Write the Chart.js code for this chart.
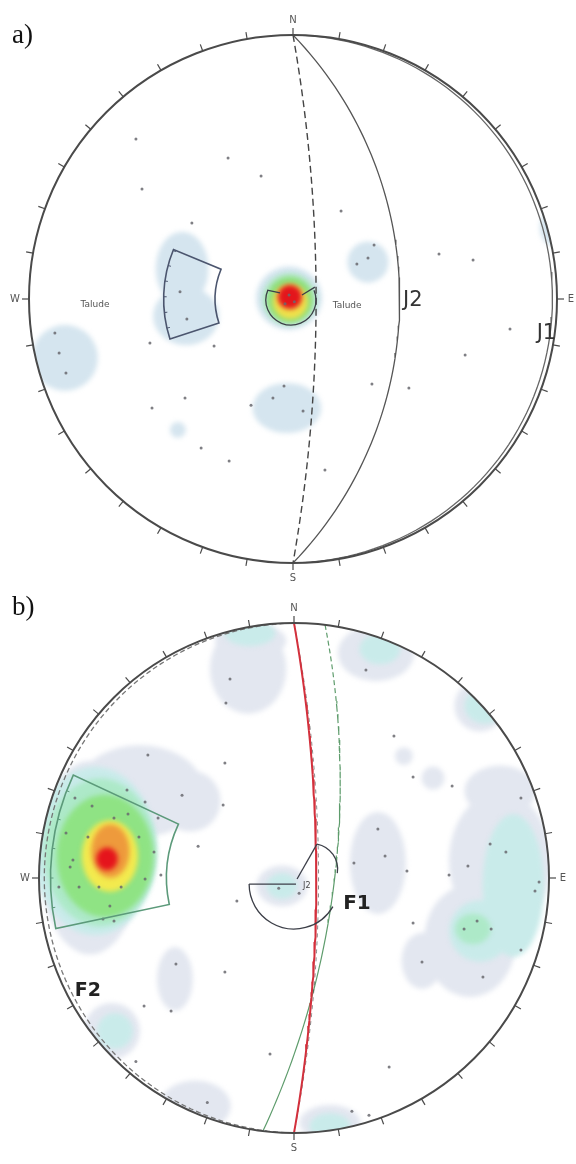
<!DOCTYPE html>
<html>
<head>
<meta charset="utf-8">
<script src="https://cdn.jsdelivr.net/npm/chart.js@4.4.1/dist/chart.umd.min.js"></script>
<style>
  html, body { margin: 0; padding: 0; background: #fff; }
  #wrap { position: relative; width: 576px; height: 1164px; overflow: hidden; }
  .panel { position: absolute; left: 0; width: 576px; }
  #pa { top: 0; height: 583px; }
  #pb { top: 583px; height: 581px; }
  .tag { position: absolute; left: 12px; font-family: "Liberation Serif", "Times New Roman", serif; font-size: 27px; color: #111; }
</style>
</head>
<body>
<div id="wrap">
  <div class="panel" id="pa"><canvas id="ca" width="576" height="583"></canvas></div>
  <div class="panel" id="pb"><canvas id="cb" width="576" height="581"></canvas></div>
  <div class="tag" style="top:19px">a)</div>
  <div class="tag" style="top:591px">b)</div>
</div>
<script>
// ---------- stereonet a) ----------
// Poles, in net units (primitive radius = 100), x = east, y = north
const polesA = [
  [-59.5, 60.6], [-24.6, 53.4], [-12.1, 46.6], [-57.2, 41.7], [-38.3, 28.8],
  [18.2, 33.3], [55.3, 17.0], [68.2, 14.8], [82.2, -11.4], [65.2, -21.2],
  [29.9, -32.2], [43.9, -33.7], [-54.2, -16.7], [-29.9, -17.8], [-90.2, -12.9],
  [-88.6, -20.5], [-86.0, -28.0], [-40.9, -37.5], [-53.4, -41.3], [-15.9, -40.2],
  [-3.4, -33.0], [-7.6, -37.5], [3.8, -42.4], [-34.8, -56.4], [-24.2, -61.4],
  [12.1, -64.8], [30.7, 20.5], [28.4, 15.5], [24.2, 13.3], [-42.8, 2.7],
  [-40.2, -7.6], [-1.5, 1.5], [0.5, -1.0], [-3.0, -1.8]
];
// Density contours: [x, y, rx, ry, level]
const densityA = [
  [-42.0, 11.5, 10, 14, 1], [-40.5, -6.5, 12.5, 11, 1], [-86.4, -22.3, 12.5, 12.5, 1],
  [28.4, 14.0, 7.8, 7.8, 1], [-2.3, -41.3, 13, 9.5, 1], [-43.6, -49.6, 3, 3, 1],
  [99, 27, 5.5, 7, 1], [-1.5, 0.3, 12.5, 12, 1],
  [-1.3, 0.0, 10.5, 10, 2],
  [-1.2, -0.3, 8.8, 8.8, 3],
  [-1.0, -1.0, 6.6, 6.6, 4],
  [-1.2, 0.8, 4.6, 4.6, 6]
];
// Planes (great circles): strike / dip
const planeNamesA = ['J1', 'Talude', 'J2'];
const strikeA = [0, 0, 0];
const dipA = [1, 80, 46];
// Kinematic window: azimuth min/max, radius min/max
const windowA = [252, 292.5, 29.5, 49];
// Slope-face daylight arc: [cx, cy, r, azFrom, azTo]
const arcsA = [[-0.8, -0.4, 9.5, 67, 293]];
const segsA = [[[-9.8, 3.4], [-4.9, 2.3]], [[8.3, 4.5], [3.4, 1.5]]];
const labelsA = [
  ['J2', 45.4, -0.6], ['J1', 96.0, -13.2], ['Talude', -75, -2.3], ['Talude', 20.5, -2.7]
];

// ---------- stereonet b) ----------
const polesB = [
  [-25.1, 78.0], [-26.7, 68.6], [-57.3, 48.2], [-27.1, 45.1], [28.2, 81.6],
  [39.2, 55.7], [46.7, 39.6], [62.0, 36.1], [89.0, 31.4], [32.9, 19.2],
  [35.7, 8.6], [23.5, 5.9], [44.3, 2.7], [60.8, 1.2], [68.2, 4.7],
  [76.9, 13.3], [83.1, 10.2], [96.1, -1.6], [94.5, -5.1], [66.7, -20.0],
  [71.8, -16.9], [77.3, -20.0], [46.7, -17.6], [50.2, -32.9], [89.0, -28.2],
  [74.1, -38.8], [-22.4, -9.0], [-27.1, -36.9], [-46.3, -33.7], [-48.2, -52.2],
  [-58.8, -50.2], [-9.4, -69.0], [37.3, -74.1], [-27.8, 28.6], [-37.6, 12.5],
  [-65.5, 34.5], [-43.9, 32.5], [29.4, -93.0], [22.7, -91.5], [-62, -72],
  [-34, -88],
  [-85.9, 31.4], [-79.2, 28.2], [-70.6, 23.5], [-65.1, 25.1], [-58.4, 29.8],
  [-53.3, 23.5], [-89.4, 17.6], [-80.8, 16.1], [-60.8, 16.1], [-54.9, 10.2],
  [-92.2, -3.5], [-84.3, -3.5], [-76.5, -3.5], [-67.8, -3.5], [-58.4, -0.4],
  [-52.2, 1.2], [-72.2, -11.0], [-70.6, -16.9], [-74.9, -16.1], [-86.7, 7.1],
  [-87.8, 4.3], [-6, -4], [2, -6]
];
const densityB = [
  [-18, 82, 15, 17.6, 1], [-17, 93, 14, 7, 1], [32.2, 88.2, 15, 11, 1], [72.9, 67.5, 10, 10, 1],
  [43.1, 47.8, 3.5, 3.5, 1], [54.5, 39.2, 4.5, 4.5, 1], [80.8, 6.7, 20, 27, 1], [69, -24.7, 18, 22, 1],
  [80.8, 34.1, 14, 10, 1], [32.9, 5.9, 11, 20, 1], [50.2, -32.5, 8, 11, 1], [-60.4, 34.1, 25, 18, 1],
  [-40.8, 30.2, 12, 12, 1], [-46.7, -39.6, 7, 12.5, 1], [-71.4, -60, 11, 11, 1], [-38.8, -89.4, 14, 10, 1],
  [14.1, -96, 12, 7, 1], [-4.7, -3.1, 10, 8, 1], [-80, 8, 20, 38, 1],
  [-17.3, 96, 10, 5, 2], [33.7, 89.8, 8, 6, 2], [74.9, 67.5, 8, 7, 2], [86, -3, 12, 28, 2],
  [72.9, -20.8, 12, 12, 2], [-70.2, -60, 7, 7, 2], [14.1, -97.3, 8, 5, 2], [-4.7, -3.1, 6, 5, 2],
  [-78, 10.6, 24, 33, 2],
  [70.2, -20, 7, 6, 3], [-76, 10, 22, 29, 3],
  [-74.1, 8.6, 19, 24, 4],
  [-72.2, 8.6, 11, 14, 5],
  [-72.0, 10.6, 7.5, 10.5, 6],
  [-73.3, 7.5, 4.2, 4.5, 7]
];
const planeNamesB = ['F1', 'F1 mean', 'F1b', 'F2'];
const strikeB = [0, 0, 7, 180];
const dipB = [80, 79, 72, 1.2];
const windowB = [258, 295, 50, 95.5];
const arcsB = [[0, -2.4, 17.6, 120, 270], [7.1, 3.5, 10, 11, 99]];
const segsB = [[[-17.6, -2.4], [0.8, -2.4]], [[1.2, -0.4], [9.0, 13.3]]];
const labelsB = [['F1', 24.7, -10.2], ['F2', -80.8, -44.3], ['J2', 5.0, -3.2]];

const cardinals = [['N', 0, 1], ['E', 1, 0], ['S', 0, -1], ['W', -1, 0]];

// Lower-hemisphere equal-angle projection of a plane's great circle
function greatCircle(strike, dip) {
  const rad = Math.PI / 180;
  const s = strike * rad, dd = (strike + 90) * rad, d = dip * rad;
  const sv = [Math.sin(s), Math.cos(s), 0];
  const dv = [Math.sin(dd) * Math.cos(d), Math.cos(dd) * Math.cos(d), Math.sin(d)];
  const pts = [];
  for (let a = 0; a <= 180; a += 2) {
    const ca = Math.cos(a * rad), sa = Math.sin(a * rad);
    const e = ca * sv[0] + sa * dv[0], n = ca * sv[1] + sa * dv[1], dn = ca * sv[2] + sa * dv[2];
    const plunge = Math.asin(Math.max(-1, Math.min(1, dn)));
    const trend = Math.atan2(e, n);
    const r = 100 * Math.tan((Math.PI / 2 - plunge) / 2);
    pts.push({ x: r * Math.sin(trend), y: r * Math.cos(trend) });
  }
  return pts;
}

function stereoPlugin(conf) {
  return {
    id: 'stereo',
    beforeDatasetsDraw(chart) {
      const { ctx, scales: { x, y } } = chart;
      const cx = x.getPixelForValue(0), cy = y.getPixelForValue(0);
      const R = x.getPixelForValue(100) - cx;
      ctx.save();
      ctx.beginPath(); ctx.arc(cx, cy, R, 0, 2 * Math.PI); ctx.clip();
      ctx.filter = 'blur(2.5px)';
      const levels = [...new Set(conf.density.map(b => b[4]))].sort((a, b) => a - b);
      for (const lv of levels) {
        ctx.fillStyle = conf.palette[lv];
        ctx.beginPath();
        for (const b of conf.density) {
          if (b[4] !== lv) continue;
          const ex = x.getPixelForValue(b[0]), ey = y.getPixelForValue(b[1]);
          const rx = Math.abs(x.getPixelForValue(b[2]) - cx), ry = Math.abs(y.getPixelForValue(b[3]) - cy);
          ctx.moveTo(ex + rx, ey);
          ctx.ellipse(ex, ey, rx, ry, 0, 0, 2 * Math.PI);
        }
        ctx.fill();
      }
      ctx.restore();
    },
    afterDatasetsDraw(chart) {
      const { ctx, scales: { x, y } } = chart;
      const cx = x.getPixelForValue(0), cy = y.getPixelForValue(0);
      const k = (x.getPixelForValue(100) - cx) / 100;
      const R = 100 * k;
      const ang = az => (az - 90) * Math.PI / 180;
      ctx.save();
      // kinematic window
      const w = conf.window;
      ctx.strokeStyle = conf.windowColor; ctx.lineWidth = 1.6;
      ctx.beginPath();
      ctx.arc(cx, cy, w[3] * k, ang(w[0]), ang(w[1]));
      ctx.arc(cx, cy, w[2] * k, ang(w[1]), ang(w[0]), true);
      ctx.closePath(); ctx.stroke();
      ctx.lineWidth = 1;
      for (let az = w[0] + 5; az < w[1]; az += 7) {
        const t = ang(az);
        ctx.beginPath();
        ctx.moveTo(cx + Math.cos(t) * w[3] * k, cy + Math.sin(t) * w[3] * k);
        ctx.lineTo(cx + Math.cos(t) * (w[3] * k - 3), cy + Math.sin(t) * (w[3] * k - 3));
        ctx.stroke();
      }
      // slope symbols
      ctx.strokeStyle = '#3c3f48'; ctx.lineWidth = 1.3;
      for (const a of conf.arcs) {
        ctx.beginPath();
        ctx.arc(x.getPixelForValue(a[0]), y.getPixelForValue(a[1]), a[2] * k, ang(a[3]), ang(a[4]));
        ctx.stroke();
      }
      for (const s of conf.segs) {
        ctx.beginPath();
        ctx.moveTo(x.getPixelForValue(s[0][0]), y.getPixelForValue(s[0][1]));
        ctx.lineTo(x.getPixelForValue(s[1][0]), y.getPixelForValue(s[1][1]));
        ctx.stroke();
      }
      // primitive circle and 10-degree ticks
      ctx.strokeStyle = '#4a4a4a'; ctx.lineWidth = 2;
      ctx.beginPath(); ctx.arc(cx, cy, R, 0, 2 * Math.PI); ctx.stroke();
      ctx.lineWidth = 1.2;
      for (let az = 0; az < 360; az += 10) {
        const t = ang(az);
        ctx.beginPath();
        ctx.moveTo(cx + Math.cos(t) * R, cy + Math.sin(t) * R);
        ctx.lineTo(cx + Math.cos(t) * (R + 7), cy + Math.sin(t) * (R + 7));
        ctx.stroke();
      }
      // cardinal letters
      ctx.fillStyle = '#555'; ctx.font = '10px "DejaVu Sans"';
      ctx.textAlign = 'center'; ctx.textBaseline = 'middle';
      for (const c of cardinals) {
        ctx.fillText(c[0], cx + c[1] * (R + 14), cy - c[2] * (R + 15));
      }
      // plane labels
      for (const l of conf.labels) {
        ctx.font = conf.fonts[l[0]] || '9px "DejaVu Sans"';
        ctx.fillStyle = conf.textColors[l[0]] || '#555';
        ctx.fillText(l[0], x.getPixelForValue(l[1]), y.getPixelForValue(l[2]));
      }
      ctx.restore();
    }
  };
}

function poleSet(poles) {
  return {
    data: poles.map(p => ({ x: p[0], y: p[1] })),
    pointRadius: 1.5, pointBackgroundColor: 'rgba(105,105,110,0.85)', pointBorderWidth: 0,
    showLine: false, order: 0
  };
}

function lineSet(strike, dip, color, width, dash, segment) {
  const ds = {
    data: greatCircle(strike, dip), showLine: true, pointRadius: 0,
    borderColor: color, borderWidth: width, borderDash: dash, tension: 0, order: 1
  };
  if (segment) ds.segment = segment;
  return ds;
}

function build(id, pad, datasets, conf) {
  return new Chart(document.getElementById(id), {
    type: 'scatter',
    data: { datasets },
    options: {
      responsive: false, animation: false, events: [],
      layout: { padding: pad },
      plugins: { legend: { display: false }, tooltip: { enabled: false } },
      scales: {
        x: { type: 'linear', min: -100, max: 100, display: false },
        y: { type: 'linear', min: -100, max: 100, display: false }
      }
    },
    plugins: [stereoPlugin(conf)]
  });
}

build('ca', { left: 29, right: 19, top: 35, bottom: 20 }, [
  poleSet(polesA),
  lineSet(strikeA[0], dipA[0], '#666', 1.3, []),
  lineSet(strikeA[1], dipA[1], '#444', 1.4, [7, 4]),
  lineSet(strikeA[2], dipA[2], '#555', 1.3, [])
], {
  density: densityA,
  palette: { 1: '#d5e5ef', 2: '#b9e7d2', 3: '#8fe07c', 4: '#f0e04a', 6: '#e3161c' },
  window: windowA, windowColor: '#4b556e',
  arcs: arcsA, segs: segsA, labels: labelsA,
  fonts: { J1: '21px "DejaVu Sans"', J2: '21px "DejaVu Sans"' },
  textColors: { J1: '#333', J2: '#333' }
});

build('cb', { left: 39, right: 27, top: 40, bottom: 31 }, [
  poleSet(polesB),
  lineSet(strikeB[0], dipB[0], '#d3303c', 2, []),
  lineSet(strikeB[1], dipB[1], 'rgba(60,60,60,0.6)', 1, [4, 4]),
  lineSet(strikeB[2], dipB[2], '#5e9c6c', 1.2, [], { borderDash: c => c.p0.parsed.y > 5 ? [5, 3] : undefined }),
  lineSet(strikeB[3], dipB[3], '#777', 1.3, [5, 3])
], {
  density: densityB,
  palette: { 1: '#e3e7f0', 2: '#c9ebea', 3: '#ade9c8', 4: '#8fe384', 5: '#f3ea4e', 6: '#ee9a3c', 7: '#e5141c' },
  window: windowB, windowColor: '#5c9a7a',
  arcs: arcsB, segs: segsB, labels: labelsB,
  fonts: { F1: 'bold 20px "DejaVu Sans"', F2: 'bold 19px "DejaVu Sans"', J2: '8px "DejaVu Sans"' },
  textColors: { F1: '#222', F2: '#222', J2: '#444' }
});
</script>
</body>
</html>
